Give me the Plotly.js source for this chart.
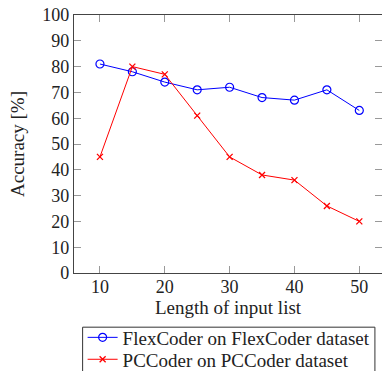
<!DOCTYPE html>
<html>
<head>
<meta charset="utf-8">
<script src="https://cdn.plot.ly/plotly-3.0.1.min.js"></script>
<style>html,body{margin:0;padding:0;background:#fff;}#chart{width:382px;height:371px;}</style>
</head>
<body>
<div id="chart"></div>
<script>
const lengths = [10, 15, 20, 25, 30, 35, 40, 45, 50];
const flexCoderAcc = [81, 78, 74, 71, 72, 68, 67, 71, 63];
const pcCoderAcc = [45, 80, 77, 61, 45, 38, 36, 26, 20];
const seriesNames = ["FlexCoder on FlexCoder dataset", "PCCoder on PCCoder dataset"];
const xTicks = [10, 20, 30, 40, 50];
const yTicks = [0, 10, 20, 30, 40, 50, 60, 70, 80, 90, 100];

const serif = "Liberation Serif";
const tickSize = 18;
const textSize = 19;
const traces = [
  {x: lengths, y: flexCoderAcc, name: seriesNames[0], mode: "lines+markers", legend: "legend",
   line: {color: "#0000ff", width: 1},
   marker: {symbol: "circle-open", size: 8, color: "#0000ff", line: {width: 1.2}}},
  {x: lengths, y: pcCoderAcc, name: seriesNames[1], mode: "lines+markers", legend: "legend2",
   line: {color: "#ff0000", width: 1},
   marker: {symbol: "x-thin-open", size: 6, color: "#ff0000", line: {width: 1.3, color: "#ff0000"}}}
];
const axisCommon = {
  showgrid: false, zeroline: false, showline: true, linecolor: "#444", linewidth: 1.2,
  ticks: "inside", ticklen: 7, tickcolor: "#999", tickwidth: 1, mirror: "ticks",
  automargin: false,
  tickfont: {family: serif, size: tickSize, color: "#222"}
};
const legendCommon = {xanchor: "left", yanchor: "middle", borderwidth: 0, bgcolor: "rgba(0,0,0,0)",
  font: {family: serif, size: textSize, color: "#222"}, itemwidth: 30};
const layout = {
  width: 382, height: 371,
  margin: {l: 74, r: 0, t: 15, b: 98, pad: 0, autoexpand: false},
  paper_bgcolor: "#fff", plot_bgcolor: "#fff",
  font: {family: serif, color: "#222", size: textSize},
  showlegend: true,
  legend: Object.assign({}, legendCommon, {x: 0.028, y: -0.25}),
  legend2: Object.assign({}, legendCommon, {x: 0.028, y: -0.335}),
  shapes: [{type: "rect", xref: "paper", yref: "paper", x0: 0.028, x1: 0.977, y0: -0.21, y1: -0.6,
            line: {color: "#333", width: 1}, fillcolor: "rgba(0,0,0,0)", layer: "below"}],
  xaxis: Object.assign({}, axisCommon, {range: [6, 53.5], tickvals: xTicks, ticklabelstandoff: -3,
    title: {text: "Length of input list", font: {family: serif, size: textSize, color: "#222"}, standoff: 4}}),
  yaxis: Object.assign({}, axisCommon, {range: [0, 100], tickvals: yTicks,
    title: {text: "Accuracy [%]", font: {family: serif, size: textSize, color: "#222"}, standoff: 12}})
};
Plotly.newPlot("chart", traces, layout, {staticPlot: true, displayModeBar: false});
</script>
</body>
</html>
